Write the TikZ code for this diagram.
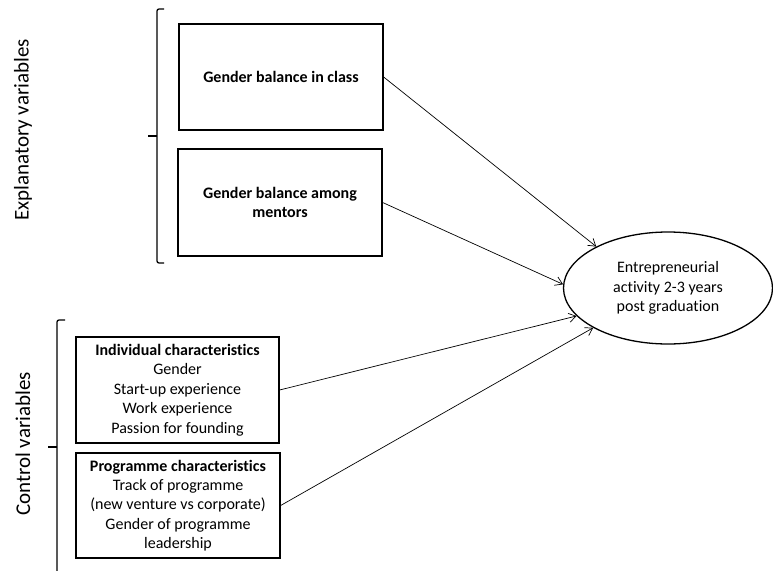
\documentclass[tikz,border=0pt]{standalone}
\usepackage{fontspec}
\setmainfont{Carlito}[Ligatures={NoCommon}]
\usetikzlibrary{arrows.meta,shapes.geometric}
\begin{document}
\begin{tikzpicture}[x=1pt,y=-1pt,
  box/.style={draw,line width=1.3pt,rectangle,inner sep=2pt,align=center,
    font=\fontsize{16}{19.4}\selectfont},
  ell/.style={draw,line width=1.3pt,ellipse,inner sep=0pt,align=center,
    font=\fontsize{16}{19.4}\selectfont},
  arr/.style={line width=0.7pt,-{Straight Barb[length=7pt,width=9pt,line width=0.7pt]}},
  brace/.style={line width=1.3pt},
  side/.style={font=\fontsize{21}{24}\selectfont,rotate=90}]
\useasboundingbox (0,0) rectangle (773,570);
\node[box,minimum width=204pt,minimum height=106pt] (b1) at (281,77) {\textbf{Gender balance in class}};
\node[box,minimum width=204pt,minimum height=107pt] (b2) at (280,202.5) {\textbf{Gender balance among}\\\textbf{mentors}};
\node[box,minimum width=203pt,minimum height=106pt] (b3) at (177.5,390) {\textbf{Individual characteristics}\\Gender\\Start-up experience\\Work experience\\Passion for founding};
\node[box,minimum width=204pt,minimum height=105pt] (b4) at (178,505.5) {\textbf{Programme characteristics}\\Track of programme\\(new venture vs corporate)\\Gender of programme\\leadership};
\node[ell,minimum width=209pt,minimum height=112pt] (e) at (668,288) {Entrepreneurial\\activity 2-3 years\\post graduation};
\node[side] (t1) at (23,130) {Explanatory variables};
\node[side] (t2) at (23,444) {Control variables};
\draw[arr] (b1.east) -- (e.150);
\draw[arr] (b2.east) -- (e.178);
\draw[arr] (b3.east) -- (e.197);
\draw[arr] (b4.east) -- (e.208);
\draw[brace,rounded corners=2pt] (164,9) -- (157,9) -- (157,263) -- (164,263);
\draw[brace] (157,136) -- (148,136);
\draw[brace,rounded corners=2pt] (65,320) -- (57,320) -- (57,580);
\draw[brace] (57,447) -- (48,447);
\end{tikzpicture}
\end{document}
